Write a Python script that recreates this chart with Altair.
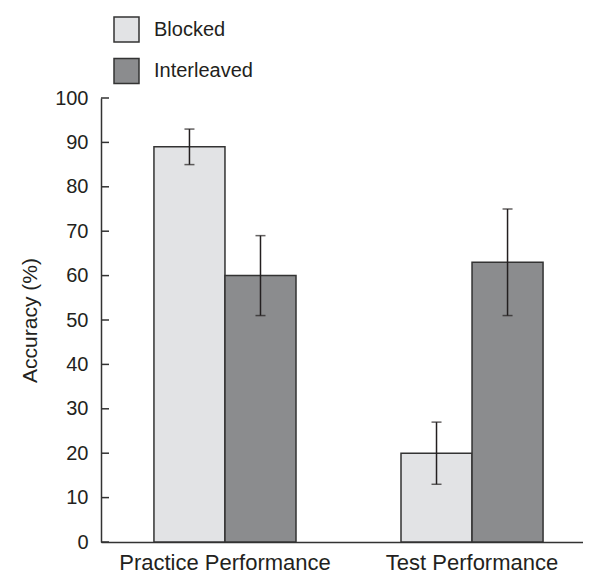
import altair as alt
import pandas as pd

groups = ["Practice Performance", "Test Performance"]
conditions = ["Blocked", "Interleaved"]
blocked_mean = [89, 20]
blocked_lo = [85, 13]
blocked_hi = [93, 27]
inter_mean = [60, 63]
inter_lo = [51, 51]
inter_hi = [69, 75]
y_ticks = [0, 10, 20, 30, 40, 50, 60, 70, 80, 90, 100]
colors = ["#e2e3e5", "#8b8c8e"]

rows = []
for i, g in enumerate(groups):
    rows.append({"group": g, "condition": "Blocked", "mean": blocked_mean[i], "lo": blocked_lo[i], "hi": blocked_hi[i]})
    rows.append({"group": g, "condition": "Interleaved", "mean": inter_mean[i], "lo": inter_lo[i], "hi": inter_hi[i]})
df = pd.DataFrame(rows)
tick_df = pd.DataFrame({"t": y_ticks})

FONT = "Liberation Sans"
INK = "#231f20"

x_axis = alt.Axis(title=None, labelAngle=0, ticks=False, labelPadding=10, labelLimit=0,
                  labelFontSize=22, labelFont=FONT, labelColor=INK,
                  domainColor="#333", domainWidth=1.5)
x_scale = alt.Scale(paddingInner=0.425, paddingOuter=0.188, align=0.57)
y_axis = alt.Axis(values=y_ticks, ticks=False, grid=False, labelPadding=13,
                  labelFontSize=20, labelFont=FONT, labelColor=INK,
                  title="Accuracy (%)", titleFontSize=21, titleFont=FONT,
                  titleFontWeight="normal", titleColor=INK, titlePadding=14,
                  domainColor="#333", domainWidth=1.5)
y_scale = alt.Scale(domain=[0, 100], nice=False)
xoff = alt.XOffset("condition:N", sort=conditions, scale=alt.Scale(paddingInner=0, paddingOuter=0))


def xenc():
    return alt.X("group:N", sort=groups, scale=x_scale, axis=x_axis)


bars = alt.Chart(df).mark_bar(stroke="#333", strokeWidth=1.5).encode(
    x=xenc(),
    xOffset=xoff,
    y=alt.Y("mean:Q", scale=y_scale, axis=y_axis),
    color=alt.Color("condition:N", sort=conditions,
                    scale=alt.Scale(domain=conditions, range=colors),
                    legend=alt.Legend(title=None, orient="none", legendX=12, legendY=-82,
                                      symbolType="square", symbolSize=625,
                                      symbolStrokeColor="#333", symbolStrokeWidth=1.5,
                                      labelFontSize=20, labelFont=FONT, labelColor=INK,
                                      labelOffset=14, rowPadding=10.5, padding=0)),
)

err = alt.Chart(df).mark_rule(color=INK, strokeWidth=1.5).encode(
    x=xenc(), xOffset=xoff,
    y=alt.Y("lo:Q", scale=y_scale, axis=y_axis), y2="hi:Q",
)
cap_lo = alt.Chart(df).mark_tick(color=INK, thickness=1.5, size=10, orient="horizontal").encode(
    x=xenc(), xOffset=xoff,
    y=alt.Y("lo:Q", scale=y_scale, axis=y_axis),
)
cap_hi = alt.Chart(df).mark_tick(color=INK, thickness=1.5, size=10, orient="horizontal").encode(
    x=xenc(), xOffset=xoff,
    y=alt.Y("hi:Q", scale=y_scale, axis=y_axis),
)
yticks = alt.Chart(tick_df).mark_rule(color="#333", strokeWidth=1.5).encode(
    y=alt.Y("t:Q", scale=y_scale, axis=y_axis),
    x=alt.value(0), x2=alt.value(8),
)

chart = alt.layer(bars, err, cap_lo, cap_hi, yticks).properties(
    width=482, height=444,
    autosize=alt.AutoSizeParams(type="none"),
    padding={"left": 93, "top": 90, "right": 0, "bottom": 32},
).configure(font=FONT).configure_view(stroke=None)

chart.save("out.html", embed_options={"renderer": "svg", "actions": False})
